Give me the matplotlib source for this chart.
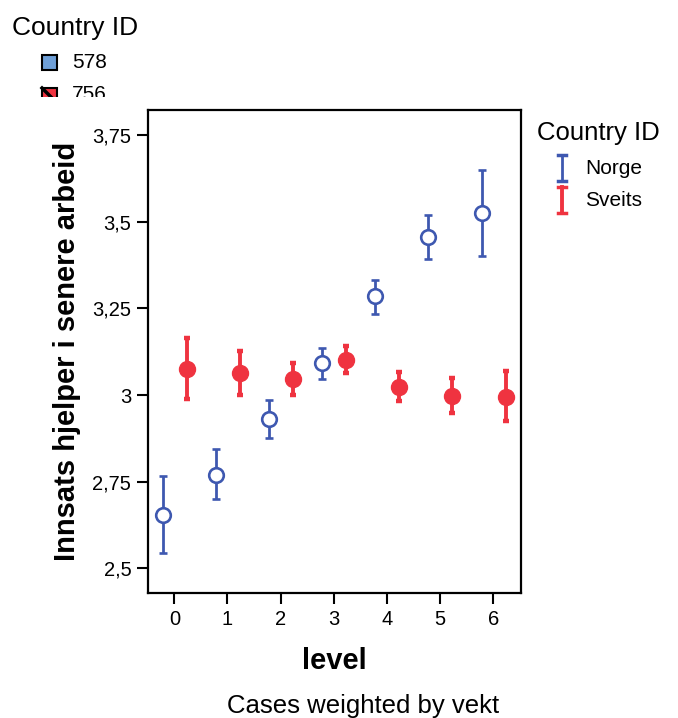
import matplotlib.pyplot as plt
from matplotlib.lines import Line2D
from matplotlib.patches import Rectangle
import numpy as np

plt.rcParams.update({"font.family": ["Liberation Sans", "DejaVu Sans"]})

levels = np.arange(7)
norge_mean = [2.654, 2.770, 2.930, 3.091, 3.286, 3.457, 3.526]
norge_low = [2.543, 2.700, 2.875, 3.045, 3.234, 3.393, 3.402]
norge_high = [2.767, 2.843, 2.985, 3.137, 3.332, 3.520, 3.648]
sveits_mean = [3.074, 3.063, 3.047, 3.101, 3.023, 2.997, 2.994]
sveits_low = [2.988, 2.999, 3.000, 3.063, 2.982, 2.949, 2.925]
sveits_high = [3.164, 3.126, 3.092, 3.140, 3.065, 3.048, 3.068]
yticks = [2.5, 2.75, 3.0, 3.25, 3.5, 3.75]
ytick_labels = ["2,5", "2,75", "3", "3,25", "3,5", "3,75"]

blue = "#3e58b0"
red = "#ef3340"
W, H = 678, 718

fig = plt.figure(figsize=(6.78, 7.18), dpi=100)
ax = fig.add_axes([148 / W, 1 - 593 / H, (521 - 148) / W, (593 - 110) / H])

nm = np.array(norge_mean)
sm = np.array(sveits_mean)
ax.errorbar(levels - 0.22, nm, yerr=[nm - norge_low, np.array(norge_high) - nm],
            fmt="o", color=blue, mfc="white", mec=blue, ms=10.5, mew=1.9,
            elinewidth=2.0, capsize=2.6, capthick=2.5, zorder=3)
ax.errorbar(levels + 0.23, sm, yerr=[sm - sveits_low, np.array(sveits_high) - sm],
            fmt="o", color=red, mfc=red, mec=red, ms=11.5,
            elinewidth=2.8, capsize=2.3, capthick=3.2, zorder=3)

ax.set_xlim(-0.495, 6.52)
ax.set_ylim(2.429, 3.822)
ax.set_xticks(levels)
ax.set_yticks(yticks)
ax.set_yticklabels(ytick_labels)
ax.tick_params(direction="out", length=8, width=1.5, labelsize=14.5, pad=4)
for s in ax.spines.values():
    s.set_linewidth(1.6)

ax.set_xlabel("level", fontsize=21, fontweight="bold", labelpad=13)
ax.set_ylabel("Innsats hjelper i senere arbeid", fontsize=21, fontweight="bold", labelpad=8)
fig.text(363 / W, 1 - 706 / H, "Cases weighted by vekt", fontsize=18.5, ha="center", va="center")

# right legend
fig.text(537 / W, 1 - 133 / H, "Country ID", fontsize=18.5, va="center")
for yc, col, lab, lw in [(168, blue, "Norge", 2.0), (200, red, "Sveits", 2.8)]:
    x0 = 562 / W
    fig.add_artist(Line2D([x0, x0], [1 - (yc - 13) / H, 1 - (yc + 13) / H], color=col, lw=lw))
    for yy in (yc - 13, yc + 13):
        fig.add_artist(Line2D([x0 - 4 / W, x0 + 4 / W], [1 - yy / H, 1 - yy / H], color=col, lw=2.5))
    fig.text(585 / W, 1 - yc / H, lab, fontsize=15, va="center")

# clipped top-left legend
lax = fig.add_axes([0, 1 - 97 / H, 0.3, 97 / H])
lax.set_xlim(0, 0.3 * W)
lax.set_ylim(97, 0)
lax.axis("off")
lax.text(12, 28, "Country ID", fontsize=19, va="center", clip_on=True)
lax.add_patch(Rectangle((42, 55), 15, 15, facecolor="#6fa0d8", edgecolor="black", lw=1.5, clip_on=True))
lax.text(72, 62, "578", fontsize=15, va="center", clip_on=True)
lax.add_patch(Rectangle((42, 88), 15, 15, facecolor=red, edgecolor="black", lw=1.5, clip_on=True))
lax.add_line(Line2D([42, 57], [88, 103], color="black", lw=2.5, clip_on=True))
lax.text(72, 95, "756", fontsize=15, va="center", clip_on=True)

fig.savefig("out.png", dpi=100)
